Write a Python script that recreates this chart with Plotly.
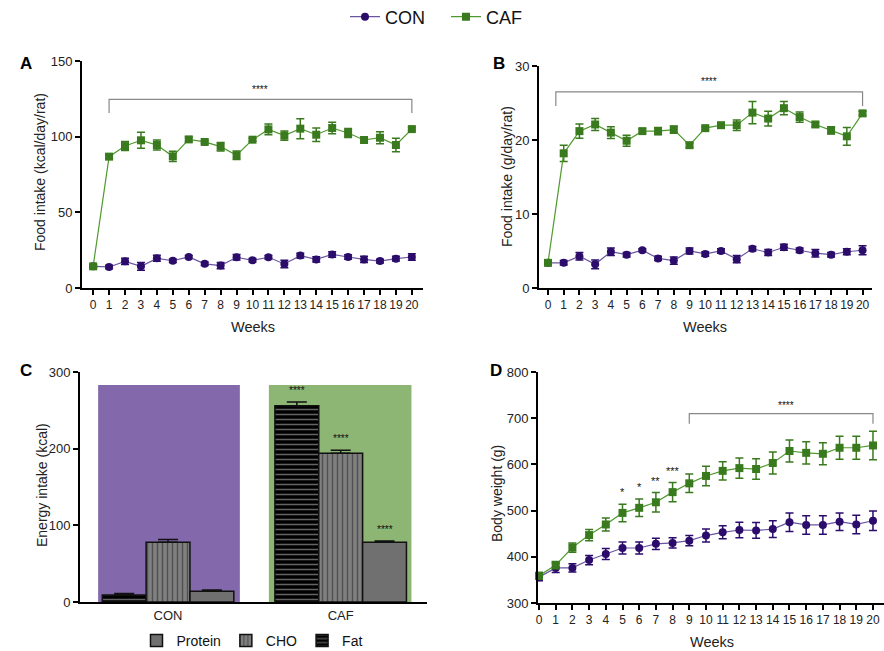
import plotly.graph_objects as go

weeks = list(range(21))
week_labels = [str(w) for w in weeks]

# Panel A: food intake (kcal/day/rat)
a_con = [14.3, 13.9, 17.6, 14.3, 19.6, 18.0, 20.5, 16.0, 14.8, 20.3, 18.3, 20.3, 15.9, 21.4, 18.9, 22.2, 20.5, 18.9, 17.8, 19.4, 20.5]
a_con_err = [1.0, 1.2, 2.0, 2.5, 2.0, 1.2, 1.0, 1.2, 2.0, 1.8, 1.2, 1.2, 2.5, 1.5, 1.8, 1.8, 1.5, 2.0, 1.2, 1.5, 2.2]
a_caf = [14.3, 86.8, 93.8, 97.6, 94.5, 87.0, 98.2, 96.5, 93.4, 87.7, 98.0, 104.8, 100.7, 105.3, 101.3, 105.7, 102.4, 97.8, 99.3, 94.5, 105.0]
a_caf_err = [1.0, 1.2, 3.0, 5.3, 3.3, 3.4, 1.5, 1.0, 2.8, 2.8, 1.0, 3.6, 3.0, 6.6, 4.5, 3.8, 3.0, 1.2, 4.0, 4.4, 1.0]

# Panel B: food intake (g/day/rat)
b_con = [3.4, 3.4, 4.3, 3.2, 4.9, 4.5, 5.1, 4.0, 3.7, 5.0, 4.6, 5.0, 3.9, 5.3, 4.8, 5.5, 5.1, 4.7, 4.5, 4.9, 5.1]
b_con_err = [0.2, 0.3, 0.5, 0.6, 0.5, 0.3, 0.2, 0.3, 0.5, 0.4, 0.3, 0.3, 0.5, 0.3, 0.4, 0.4, 0.3, 0.5, 0.3, 0.4, 0.6]
b_caf = [3.4, 18.2, 21.2, 22.1, 21.0, 19.9, 21.2, 21.2, 21.4, 19.3, 21.6, 22.0, 22.0, 23.7, 22.9, 24.3, 23.1, 22.1, 21.3, 20.5, 23.6]
b_caf_err = [0.2, 1.1, 0.95, 0.8, 0.8, 0.75, 0.3, 0.5, 0.5, 0.3, 0.2, 0.3, 0.7, 1.5, 1.0, 0.9, 0.7, 0.3, 0.5, 1.2, 0.3]

# Panel C: energy intake (kcal)
groups = ["CON", "CAF"]
group_pos = [0, 1]
fat = [9, 256]
fat_err = [2, 5]
cho = [78, 194]
cho_err = [3.5, 4]
protein = [14, 78]
protein_err = [1.5, 1.5]
c_bg_top = 283
c_stars = ["", "****"]

# Panel D: body weight (g)
d_con = [356, 376, 376, 393, 406, 419, 419, 428, 430, 435, 446, 453, 458, 457, 460, 475, 469, 469, 476, 470, 478]
d_con_err = [8, 10, 9, 10, 12, 13, 13, 12, 11, 11, 14, 14, 17, 17, 18, 20, 20, 20, 19, 20, 21]
d_caf = [359, 382, 420, 447, 470, 495, 506, 518, 540, 559, 575, 586, 592, 590, 603, 629, 625, 623, 636, 636, 641]
d_caf_err = [7, 8, 10, 12, 14, 19, 19, 21, 21, 20, 21, 20, 22, 22, 24, 24, 24, 24, 25, 25, 31]
d_point_stars = {5: "*", 6: "*", 7: "**", 8: "***"}

# significance brackets: (axis suffix, x0, x1, y_line, y_tick_end, y_text)
brackets = [("", 1, 20, 124.7, 115.6, 131), ("2", 0.5, 20, 26.5, 24.6, 27.9), ("4", 9, 20, 710, 688, 728)]

CON_COLOR = "#2b0c6b"
CAF_COLOR = "#3a7a1e"
FONT = "Liberation Sans, Arial, sans-serif"
W, H = 884, 651

fig = go.Figure()

def add_series(xa, ya, con, con_err, caf, caf_err, show):
    fig.add_trace(go.Scatter(x=weeks, y=con, error_y=dict(type="data", array=con_err, color=CON_COLOR, thickness=1.5, width=4),
                             mode="lines+markers", name="CON", legendgroup="CON", showlegend=show,
                             line=dict(color="#6a55a0", width=1.2), marker=dict(symbol="circle", size=8, color=CON_COLOR),
                             xaxis=xa, yaxis=ya, cliponaxis=False))
    fig.add_trace(go.Scatter(x=weeks, y=caf, error_y=dict(type="data", array=caf_err, color=CAF_COLOR, thickness=1.5, width=4),
                             mode="lines+markers", name="CAF", legendgroup="CAF", showlegend=show,
                             line=dict(color="#4f9a2e", width=1.2), marker=dict(symbol="square", size=8, color=CAF_COLOR),
                             xaxis=xa, yaxis=ya, cliponaxis=False))

add_series("x", "y", a_con, a_con_err, a_caf, a_caf_err, True)
add_series("x2", "y2", b_con, b_con_err, b_caf, b_caf_err, False)
add_series("x4", "y4", d_con, d_con_err, d_caf, d_caf_err, False)

# Panel C bars
bar_line = dict(color="#111111", width=1.5)
fig.add_trace(go.Bar(x=group_pos, y=fat, name="Fat", legend="legend2", legendrank=3,
                     error_y=dict(type="data", array=fat_err, symmetric=False, arrayminus=[0, 0], color="#111", thickness=1.5, width=10),
                     marker=dict(color="#000000", line=bar_line,
                                 pattern=dict(shape="-", fgcolor="#c8c8c8", bgcolor="#000000", size=5, solidity=0.3)),
                     xaxis="x3", yaxis="y3"))
fig.add_trace(go.Bar(x=group_pos, y=cho, name="CHO", legend="legend2", legendrank=2,
                     error_y=dict(type="data", array=cho_err, symmetric=False, arrayminus=[0, 0], color="#111", thickness=1.5, width=10),
                     marker=dict(color="#7f7f7f", line=bar_line,
                                 pattern=dict(shape="|", fgcolor="#222222", bgcolor="#808080", size=5, solidity=0.3)),
                     xaxis="x3", yaxis="y3"))
fig.add_trace(go.Bar(x=group_pos, y=protein, name="Protein", legend="legend2", legendrank=1,
                     error_y=dict(type="data", array=protein_err, symmetric=False, arrayminus=[0, 0], color="#111", thickness=1.5, width=10),
                     marker=dict(color="#707070", line=bar_line),
                     xaxis="x3", yaxis="y3"))

shapes = []
annotations = []
# background panels in C
shapes.append(dict(type="rect", xref="x3", yref="y3", x0=group_pos[0] - 0.405, x1=group_pos[0] + 0.416, y0=0, y1=c_bg_top,
                   fillcolor="#8468ac", line=dict(width=0), layer="below"))
shapes.append(dict(type="rect", xref="x3", yref="y3", x0=group_pos[1] - 0.416, x1=group_pos[1] + 0.41, y0=0, y1=c_bg_top,
                   fillcolor="#8db573", line=dict(width=0), layer="below"))
# stars above CAF bars
for vals, errs, off in [(fat, fat_err, -0.254), (cho, cho_err, 0.0), (protein, protein_err, 0.254)]:
    annotations.append(dict(x=group_pos[1] + off, y=vals[1] + errs[1] + 5, xref="x3", yref="y3", text=c_stars[1],
                            showarrow=False, font=dict(size=10, color="#111"), yanchor="bottom"))

for suf, x0, x1, yl, yt, ytxt in brackets:
    xr, yr = "x" + suf, "y" + suf
    shapes.append(dict(type="path", xref=xr, yref=yr,
                       path=f"M {x0},{yt} L {x0},{yl} L {x1},{yl} L {x1},{yt}",
                       line=dict(color="#888888", width=1.2)))
    annotations.append(dict(x=(x0 + x1) / 2 + (0.3 if suf == "4" else 0), y=ytxt, xref=xr, yref=yr, text="****", showarrow=False,
                            font=dict(size=10, color="#111")))

for wk, s in d_point_stars.items():
    annotations.append(dict(x=wk, y=d_caf[wk] + d_caf_err[wk] + 8, xref="x4", yref="y4", text=s, showarrow=False,
                            font=dict(size=11, color="#111"), yanchor="bottom"))

for letter, px, py in [("A", 18, 64), ("B", 491, 64), ("C", 18, 370), ("D", 488, 370)]:
    annotations.append(dict(x=px / W, y=1 - py / H, xref="paper", yref="paper", text=f"<b>{letter}</b>",
                            showarrow=False, font=dict(size=17, color="#000"), xanchor="left", yanchor="middle"))

# axis titles placed as text in paper space
y_titles = [("Food intake (kcal/day/rat)", 40, 172), ("Food intake (g/day/rat)", 507, 176),
            ("Energy intake (kcal)", 42, 485), ("Body weight (g)", 497, 494)]
for txt, px, py in y_titles:
    annotations.append(dict(x=px / W, y=1 - py / H, xref="paper", yref="paper", text=txt, textangle=-90,
                            showarrow=False, font=dict(size=14, color="#222"), xanchor="center", yanchor="middle"))
x_titles = [("Weeks", 253, 327), ("Weeks", 705, 327), ("Weeks", 712, 642)]
for txt, px, py in x_titles:
    annotations.append(dict(x=px / W, y=1 - py / H, xref="paper", yref="paper", text=txt,
                            showarrow=False, font=dict(size=14.5, color="#222"), xanchor="center", yanchor="middle"))

axis_common = dict(showline=True, linecolor="#000", linewidth=2, ticks="outside", ticklen=5, tickwidth=1.5,
                   tickcolor="#000", showgrid=False, zeroline=False, tickfont=dict(size=13, color="#222"),
                   automargin=False)
x_week = dict(tickmode="array", tickvals=weeks, ticktext=week_labels, tickangle=0,
              tickfont=dict(size=12, color="#222"))

def px_dom(a, b):
    return [a / W, b / W]

def py_dom(top, bottom):
    return [1 - bottom / H, 1 - top / H]

fig.update_layout(
    width=W, height=H, margin=dict(l=0, r=0, t=0, b=0, autoexpand=False),
    paper_bgcolor="white", plot_bgcolor="rgba(0,0,0,0)",
    font=dict(family=FONT, color="#222"),
    barmode="group", bargap=0.238, bargroupgap=0,
    showlegend=True,
    legend=dict(orientation="h", x=345 / W, xanchor="left", y=1 - 17 / H, yanchor="middle",
                font=dict(size=18, color="#111"), entrywidth=56, entrywidthmode="pixels"),
    legend2=dict(orientation="h", x=252 / W, xanchor="center", y=1 - 641 / H, yanchor="middle",
                 font=dict(size=14, color="#111"), traceorder="normal"),
    xaxis=dict(axis_common, domain=px_dom(82, 423), anchor="y", range=[-0.7, 20.7], **x_week),
    yaxis=dict(axis_common, domain=py_dom(61, 288), anchor="x", range=[0, 150], tickvals=[0, 50, 100, 150]),
    xaxis2=dict(axis_common, domain=px_dom(539, 872), anchor="y2", range=[-0.57, 20.6], **x_week),
    yaxis2=dict(axis_common, domain=py_dom(66, 288), anchor="x2", range=[0, 30], tickvals=[0, 10, 20, 30]),
    xaxis3=dict(axis_common, domain=px_dom(80, 427), anchor="y3", range=[-0.51, 1.5], tickmode="array",
                tickvals=group_pos, ticktext=groups, ticks=""),
    yaxis3=dict(axis_common, domain=py_dom(372, 602), anchor="x3", range=[0, 300], tickvals=[0, 100, 200, 300]),
    xaxis4=dict(axis_common, domain=px_dom(538, 884), anchor="y4", range=[-0.06, 20.66], **x_week),
    yaxis4=dict(axis_common, domain=py_dom(372, 603), anchor="x4", range=[300, 800],
                tickvals=[300, 400, 500, 600, 700, 800]),
    shapes=shapes, annotations=annotations,
)

fig.write_html("out.html", config={"displayModeBar": False},
               post_script="document.body.style.margin='0';document.body.style.overflow='hidden';")
